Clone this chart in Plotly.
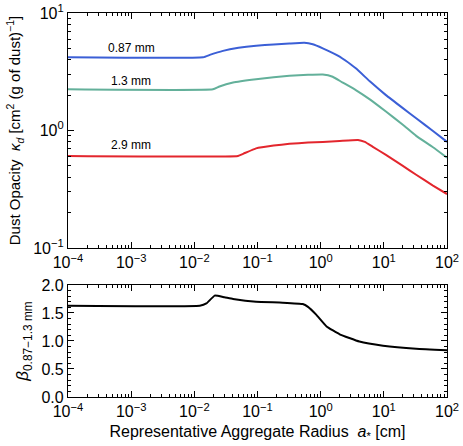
import math
import plotly.graph_objects as go

# ---- data ----
a_087 = [1e-4, 0.0138, 0.018, 0.0284, 0.05, 0.095, 0.18, 0.32, 0.55, 0.75, 1.08, 2.0, 3.6, 6.0, 10.8, 20, 32.5, 60, 100]
k_087 = [4.2, 4.2, 4.42, 4.76, 5.05, 5.27, 5.4, 5.5, 5.58, 5.42, 5.0, 4.25, 3.38, 2.62, 2.0, 1.55, 1.27, 0.99, 0.80]

a_13 = [1e-4, 0.0197, 0.025, 0.041, 0.095, 0.18, 0.32, 0.63, 1.08, 1.55, 2.2, 3.6, 6.0, 10.8, 20, 32.5, 60, 100]
k_13 = [2.24, 2.24, 2.37, 2.56, 2.73, 2.84, 2.92, 2.98, 3.0, 2.87, 2.57, 2.21, 1.84, 1.45, 1.12, 0.90, 0.72, 0.587]

a_29 = [1e-4, 0.049, 0.06, 0.095, 0.18, 0.32, 0.63, 1.08, 2.0, 3.9, 5.0, 6.6, 10.8, 20, 32.5, 60, 100]
k_29 = [0.607, 0.607, 0.635, 0.705, 0.745, 0.77, 0.79, 0.80, 0.815, 0.83, 0.80, 0.73, 0.62, 0.50, 0.42, 0.34, 0.288]

a_beta = [1e-4, 0.0122, 0.0155, 0.021, 0.03, 0.041, 0.095, 0.25, 0.52, 0.63, 0.85, 1.24, 2.0, 4.1, 9.7, 32.5, 100]
beta = [1.63, 1.63, 1.67, 1.81, 1.78, 1.75, 1.70, 1.685, 1.66, 1.61, 1.47, 1.26, 1.12, 0.99, 0.915, 0.86, 0.835]

series_names = ["0.87 mm", "1.3 mm", "2.9 mm"]
label_x = [1e-3, 1e-3, 1e-3]
label_y = [5.0, 2.65, 0.753]
colors = ["#3b5fd6", "#63b09a", "#e3262d"]

x_tickvals = [1e-4, 1e-3, 1e-2, 1e-1, 1, 10, 100]
x_ticktext = ["10<sup>−4</sup>", "10<sup>−3</sup>", "10<sup>−2</sup>", "10<sup>−1</sup>",
              "10<sup>0</sup>", "10<sup>1</sup>", "10<sup>2</sup>"]
y_tickvals = [0.1, 1, 10]
y_ticktext = ["10<sup>−1</sup>", "10<sup>0</sup>", "10<sup>1</sup>"]

x_minor = [m * 10 ** e for e in range(-4, 2) for m in range(2, 10)]
y_minor = [m * 10 ** e for e in range(-1, 1) for m in range(2, 10)]

FONT = "Liberation Sans, Arial, Helvetica, sans-serif"

fig = go.Figure()
for a, k, c in zip([a_087, a_13, a_29], [k_087, k_13, k_29], colors):
    fig.add_trace(go.Scatter(x=a, y=k, mode="lines", line=dict(color=c, width=2, shape="spline", smoothing=0.35),
                             xaxis="x", yaxis="y", showlegend=False, hoverinfo="skip"))
fig.add_trace(go.Scatter(x=a_beta, y=beta, mode="lines",
                         line=dict(color="black", width=2, shape="spline", smoothing=0.35),
                         xaxis="x2", yaxis="y2", showlegend=False, hoverinfo="skip"))

for name, lx, ly in zip(series_names, label_x, label_y):
    fig.add_annotation(x=math.log10(lx), y=math.log10(ly), xref="x", yref="y", text=name,
                       showarrow=False, font=dict(size=12, color="black", family=FONT))

axis_common = dict(showline=True, linecolor="black", linewidth=1.2, mirror="allticks",
                   ticks="inside", ticklen=6, tickwidth=1, tickcolor="black", showgrid=False,
                   zeroline=False, automargin=False, tickfont=dict(size=16, color="black", family=FONT))
minor_common = dict(ticks="inside", ticklen=3, tickwidth=1, tickcolor="black", showgrid=False)

fig.update_layout(
    width=463, height=446,
    margin=dict(l=68, r=16, t=13, b=49, autoexpand=False),
    paper_bgcolor="white", plot_bgcolor="white",
    font=dict(family=FONT, color="black"),
    xaxis=dict(type="log", range=[-4, 2], domain=[0, 1], anchor="y",
               tickvals=x_tickvals, ticktext=x_ticktext, minor=dict(tickvals=x_minor, **minor_common),
               **axis_common),
    yaxis=dict(type="log", range=[-1, 1], domain=[0.388, 1], anchor="x",
               tickvals=y_tickvals, ticktext=y_ticktext, minor=dict(tickvals=y_minor, **minor_common),
               title=dict(text="Dust Opacity  <i>κ<sub>d</sub></i> [cm<sup>2</sup> (g of dust)<sup>−1</sup>]",
                          font=dict(size=15, family=FONT), standoff=8),
               **axis_common),
    xaxis2=dict(type="log", range=[-4, 2], domain=[0, 1], anchor="y2",
                tickvals=x_tickvals, ticktext=x_ticktext, minor=dict(tickvals=x_minor, **minor_common),
                title=dict(text="Representative Aggregate Radius  <i>a</i><sub>*</sub> [cm]",
                           font=dict(size=16, family=FONT), standoff=6),
                **axis_common),
    yaxis2=dict(range=[0, 2], domain=[0, 0.2917], anchor="x2", tickvals=[0, 0.5, 1.0, 1.5, 2.0],
                ticktext=["0.0", "0.5", "1.0", "1.5", "2.0"],
                minor=dict(dtick=0.1, **minor_common),
                title=dict(text="<i>β</i><sub>0.87−1.3 mm</sub>", font=dict(size=17, family=FONT), standoff=8),
                **axis_common),
)

fig.write_html("out.html", config={"displayModeBar": False},
               post_script="document.body.style.margin='0';document.body.style.padding='0';")
